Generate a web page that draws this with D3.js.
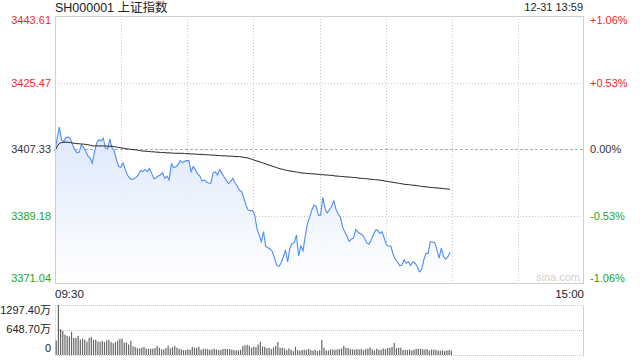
<!DOCTYPE html>
<html><head><meta charset="utf-8">
<script src="https://cdn.jsdelivr.net/npm/d3@7"></script>
<style>
html,body{margin:0;padding:0;background:#fff;}
svg{display:block;font-family:"Liberation Sans",Arial,"Noto Sans CJK SC",sans-serif;}
</style></head><body>
<svg id="c" width="640" height="360"></svg>
<script>
const title = "SH000001 上证指数";
const stamp = "12-31 13:59";
const preClose = 3407.33;
const priceTicks = [3443.61, 3425.47, 3407.33, 3389.18, 3371.04];
const pctTicks = ["+1.06%", "+0.53%", "0.00%", "-0.53%", "-1.06%"];
const timeLabels = ["09:30", "15:00"];
const volTicks = [1297.40, 648.70, 0];
const volTickLabels = ["1297.40万", "648.70万", "0"];
const totalSlots = 241;

const price = [
3407.0,3410.5,3413.4,3409.9,3409.4,3410.6,3410.7,3410.2,3408.6,3407.2,
3406.5,3406.6,3408.6,3407.9,3406.9,3405.6,3405.0,3403.6,3406.7,3409.1,
3410.0,3409.7,3410.4,3407.7,3407.5,3410.2,3407.7,3407.0,3404.5,3402.7,
3402.5,3403.7,3401.9,3400.4,3399.5,3399.2,3399.4,3399.8,3400.4,3401.6,
3401.3,3401.9,3401.3,3402.2,3400.9,3399.4,3399.6,3400.1,3400.4,3401.0,
3399.5,3400.1,3399.0,3403.4,3402.4,3402.6,3403.1,3404.3,3403.7,3404.1,
3404.3,3404.3,3401.3,3402.7,3401.8,3400.7,3400.1,3398.8,3399.0,3398.5,
3398.2,3398.1,3400.9,3401.3,3400.4,3401.9,3400.9,3399.9,3399.0,3398.1,
3398.6,3399.5,3398.3,3397.4,3396.3,3395.9,3394.2,3392.2,3390.9,3390.7,
3390.8,3389.5,3385.9,3384.1,3382.3,3385.0,3381.0,3380.6,3380.3,3379.6,
3377.8,3375.9,3375.5,3376.5,3378.1,3380.0,3376.8,3380.5,3381.8,3382.0,
3384.1,3378.4,3381.1,3379.8,3383.8,3387.1,3388.9,3390.9,3392.2,3391.8,
3389.5,3389.5,3394.3,3391.3,3390.1,3390.9,3391.8,3393.4,3391.1,3389.8,
3388.9,3386.3,3384.9,3383.8,3382.3,3383.0,3383.2,3385.6,3384.9,3384.5,
3384.1,3383.2,3382.0,3381.6,3382.7,3384.1,3385.4,3385.4,3384.5,3385.0,
3383.2,3381.4,3381.1,3381.1,3378.9,3377.5,3376.8,3375.7,3375.9,3377.3,
3376.4,3376.8,3375.8,3376.8,3376.5,3375.5,3374.1,3374.6,3377.3,3379.1,
3379.1,3382.3,3382.2,3382.0,3380.0,3377.8,3380.5,3378.2,3377.5,3378.2,
3379.4];

const avgPrice = [
3407.0,3408.2,3409.0,3409.2,3409.3,3409.3,3409.3,3409.2,3409.1,3409.0,
3408.9,3408.9,3408.8,3408.8,3408.7,3408.6,3408.5,3408.3,3408.3,3408.3,
3408.3,3408.3,3408.3,3408.3,3408.2,3408.2,3408.2,3408.1,3408.0,3407.9,
3407.8,3407.7,3407.6,3407.5,3407.4,3407.3,3407.3,3407.2,3407.1,3407.0,
3406.9,3406.9,3406.8,3406.8,3406.7,3406.7,3406.6,3406.6,3406.5,3406.5,
3406.5,3406.4,3406.4,3406.4,3406.3,3406.3,3406.3,3406.3,3406.3,3406.2,
3406.2,3406.2,3406.1,3406.1,3406.1,3406.0,3406.0,3406.0,3405.9,3405.9,
3405.9,3405.8,3405.8,3405.8,3405.7,3405.7,3405.6,3405.6,3405.6,3405.5,
3405.5,3405.5,3405.4,3405.4,3405.4,3405.3,3405.2,3405.1,3405.0,3404.8,
3404.6,3404.4,3404.2,3404.0,3403.8,3403.6,3403.4,3403.2,3403.0,3402.8,
3402.6,3402.4,3402.2,3402.0,3401.9,3401.7,3401.6,3401.5,3401.4,3401.3,
3401.2,3401.1,3401.0,3400.9,3400.9,3400.8,3400.8,3400.7,3400.7,3400.6,
3400.6,3400.5,3400.5,3400.4,3400.4,3400.3,3400.3,3400.2,3400.1,3400.1,
3400.0,3400.0,3399.9,3399.9,3399.8,3399.8,3399.7,3399.7,3399.6,3399.5,
3399.5,3399.4,3399.4,3399.3,3399.2,3399.2,3399.1,3399.1,3399.0,3398.9,
3398.8,3398.7,3398.6,3398.5,3398.4,3398.3,3398.2,3398.1,3398.0,3397.9,
3397.8,3397.8,3397.7,3397.6,3397.6,3397.5,3397.4,3397.3,3397.2,3397.2,
3397.1,3397.0,3397.0,3396.9,3396.9,3396.8,3396.8,3396.7,3396.6,3396.6,
3396.5];

const volume = [
375,1297,674,623,529,495,480,597,444,444,
495,401,427,401,350,444,469,393,393,350,
341,367,333,375,393,333,307,341,375,418,
427,324,324,273,367,230,205,179,171,188,
213,162,162,162,162,179,239,188,145,145,
179,239,171,205,239,188,162,145,128,128,
145,137,213,188,188,213,137,162,162,154,
137,145,162,145,128,128,154,162,154,154,
137,128,119,119,137,230,248,265,239,188,
213,205,273,341,222,213,179,188,154,196,
239,341,188,188,171,128,171,137,102,213,
128,110,128,137,137,162,128,119,137,102,
119,393,188,119,119,145,137,137,145,154,
171,239,188,179,154,145,137,154,145,162,
128,154,171,196,145,119,162,137,137,171,
154,179,188,205,316,179,188,188,128,137,
128,145,119,137,162,162,162,145,145,154,
119,145,137,137,119,110,119,102,119,128,
119];

const svg = d3.select("#c");
const L = 55, R = 584, T = 16, B = 283;
const VT = 305, VB = 355;
const red = "#f0282d", green = "#23a323", dark = "#333";

const x = d3.scaleLinear().domain([0, totalSlots]).range([L, R]);
const y = d3.scaleLinear().domain([priceTicks[4], priceTicks[0]]).range([B, T]);
const yv = d3.scaleLinear().domain([0, volTicks[0]]).range([VB, VT]);

// gradient
const defs = svg.append("defs");
const g = defs.append("linearGradient").attr("id","fillg").attr("x1",0).attr("y1",0).attr("x2",0).attr("y2",1);
g.append("stop").attr("offset","0%").attr("stop-color","#dbe7fb").attr("stop-opacity",0.95);
g.append("stop").attr("offset","100%").attr("stop-color","#ffffff").attr("stop-opacity",1);

// vertical grid
const vgrid = d3.range(1, 8).map(k => L + (R - L) * k / 8);
svg.append("g").selectAll("line").data(vgrid).join("line")
  .attr("x1", d => Math.round(d) + 0.5).attr("x2", d => Math.round(d) + 0.5)
  .attr("y1", T).attr("y2", B)
  .attr("stroke", "#c8c8c8").attr("stroke-dasharray", "1,2");

// horizontal grid
svg.append("g").selectAll("line").data(priceTicks.slice(1, 4)).join("line")
  .attr("x1", L).attr("x2", R)
  .attr("y1", d => Math.round(y(d)) + 0.5).attr("y2", d => Math.round(y(d)) + 0.5)
  .attr("stroke", (d,i) => i === 1 ? "#aaa" : "#c8c8c8")
  .attr("stroke-dasharray", (d,i) => i === 1 ? "3,2" : "1,2");

// area
const area = d3.area().x((d,i) => x(i)).y0(B).y1(d => y(d));
svg.append("path").datum(price).attr("d", area).attr("fill", "url(#fillg)");

// price line
const line = d3.line().x((d,i) => x(i)).y(d => y(d));
svg.append("path").datum(price).attr("d", line).attr("fill","none")
  .attr("stroke", "#4e8ef0").attr("stroke-width", 1.1);
svg.append("path").datum(avgPrice).attr("d", line).attr("fill","none")
  .attr("stroke", "#222").attr("stroke-width", 1);

// border
svg.append("rect").attr("x", L + 0.5).attr("y", T + 0.5).attr("width", R - L - 1).attr("height", B - T)
  .attr("fill", "none").attr("stroke", "#cfcfcf");

// watermark
svg.append("text").attr("x", 580).attr("y", 281).attr("text-anchor","end")
  .attr("font-size", 11).attr("fill", "#cfcfcf").text("sina.com");

// left price labels
const labY = [24, y(priceTicks[1]) + 4, y(priceTicks[2]) + 4, y(priceTicks[3]) + 4, 282];
const labC = [red, red, dark, green, green];
svg.append("g").selectAll("text").data(priceTicks).join("text")
  .attr("x", 51).attr("y", (d,i) => labY[i]).attr("text-anchor","end")
  .attr("font-size", 11).attr("fill", (d,i) => labC[i]).text(d => d.toFixed(2));
svg.append("g").selectAll("text").data(pctTicks).join("text")
  .attr("x", 590).attr("y", (d,i) => labY[i]).attr("text-anchor","start")
  .attr("font-size", 11).attr("fill", (d,i) => labC[i]).text(d => d);

// title + stamp
svg.append("text").attr("x", 55).attr("y", 12).attr("font-size", 12.5).attr("fill", "#222").text(title);
svg.append("text").attr("x", 583).attr("y", 11).attr("text-anchor","end").attr("font-size", 11).attr("fill", "#222").text(stamp);

// time labels
svg.append("text").attr("x", L).attr("y", 298).attr("font-size", 11.5).attr("fill", "#222").text(timeLabels[0]);
svg.append("text").attr("x", R).attr("y", 298).attr("text-anchor","end").attr("font-size", 11.5).attr("fill", "#222").text(timeLabels[1]);

// volume panel grid
svg.append("g").selectAll("line").data(volTicks).join("line")
  .attr("x1", L).attr("x2", R)
  .attr("y1", d => Math.round(yv(d)) + 0.5).attr("y2", d => Math.round(yv(d)) + 0.5)
  .attr("stroke", "#c8c8c8").attr("stroke-dasharray", "1,1");
svg.append("line").attr("x1", R - 0.5).attr("x2", R - 0.5).attr("y1", VT).attr("y2", VB + 1).attr("stroke", "#d0d0d0");
svg.append("line").attr("x1", L + 0.5).attr("x2", L + 0.5).attr("y1", VT).attr("y2", VB + 1).attr("stroke", "#e4e4e4");

// volume bars
svg.append("g").selectAll("rect").data(volume).join("rect")
  .attr("x", (d,i) => x(i) + 0.6).attr("width", 1.2)
  .attr("y", d => yv(d)).attr("height", d => VB - yv(d))
  .attr("fill", "#666");

// volume labels
const vY = [314, 333, 352];
svg.append("g").selectAll("text").data(volTickLabels).join("text")
  .attr("x", 51).attr("y", (d,i) => vY[i]).attr("text-anchor","end")
  .attr("font-size", 11).attr("fill", "#222").text(d => d);
</script>
</body></html>
